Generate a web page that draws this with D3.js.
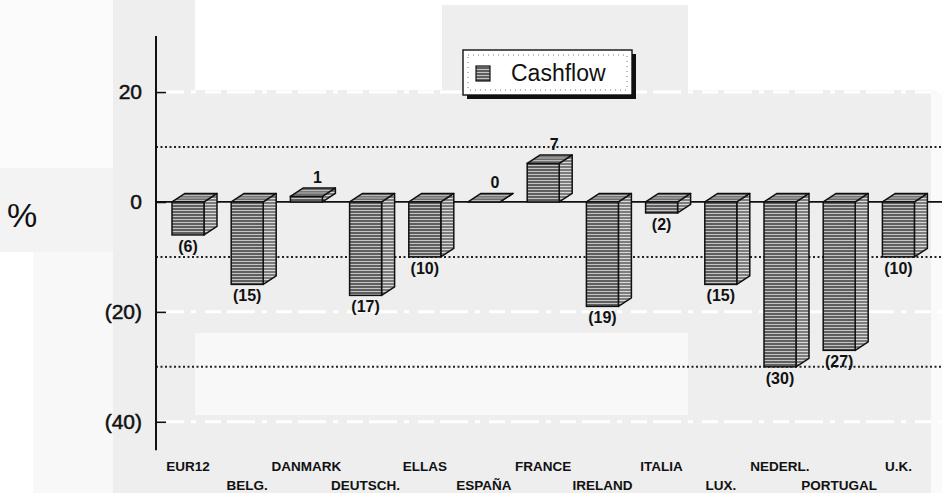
<!DOCTYPE html>
<html>
<head>
<meta charset="utf-8">
<script src="https://cdn.jsdelivr.net/npm/d3@7"></script>
<style>
  html, body { margin: 0; padding: 0; background: #fff; }
  svg { display: block; font-family: "Liberation Sans", Arial, Helvetica, sans-serif; }
</style>
</head>
<body>
<svg id="chart" width="942" height="493"></svg>
<script>
// ---- data ----
const categories = ["EUR12", "BELG.", "DANMARK", "DEUTSCH.", "ELLAS", "ESPAÑA", "FRANCE",
                    "IRELAND", "ITALIA", "LUX.", "NEDERL.", "PORTUGAL", "U.K."];
const cashflow = [-6, -15, 1, -17, -10, 0, 7, -19, -2, -15, -30, -27, -10];
const yTickValues = [20, 0, -20, -40];
const dottedGridValues = [10, -10, -30];
const dashedGridValues = [20, -20, -40];
const seriesName = "Cashflow";
const yUnit = "%";

const svg = d3.select("#chart");
const W = 942, H = 493;

// ---- background (scan shading) ----
const bg = svg.append("g");
bg.append("rect").attr("x", 0).attr("y", 0).attr("width", W).attr("height", H).attr("fill", "#eeeeee");
[
  [0, 0, 113, 168, "#fbfbfb"],
  [0, 168, 113, 84, "#f3f3f3"],
  [0, 252, 33, 241, "#ffffff"],
  [33, 252, 80, 241, "#f8f8f8"],
  [195, 0, 247, 90, "#ffffff"],
  [442, 0, 246, 5, "#ffffff"],
  [688, 0, 254, 90, "#ffffff"],
  [195, 333, 493, 82, "#f8f8f8"],
  [931, 90, 11, 403, "#fafafa"]
].forEach(r => bg.append("rect").attr("x", r[0]).attr("y", r[1]).attr("width", r[2]).attr("height", r[3]).attr("fill", r[4]));

// ---- patterns ----
const defs = svg.append("defs");
function stripes(id, base, line, h) {
  const p = defs.append("pattern").attr("id", id).attr("patternUnits", "userSpaceOnUse")
    .attr("width", 6).attr("height", h);
  p.append("rect").attr("width", 6).attr("height", h).attr("fill", base);
  p.append("rect").attr("width", 6).attr("height", 1).attr("fill", line);
}
stripes("pFront", "#5f5f5f", "#c4c4c4", 3);
stripes("pSide", "#7c7c7c", "#d8d8d8", 3);
stripes("pTop", "#6a6a6a", "#c0c0c0", 2.5);

// ---- scales ----
const x = d3.scaleBand().domain(categories).range([158.4, 928]).padding(0);
const y = d3.scaleLinear().domain([-45.5, 30.2]).range([452, 36]);
const axisX = 156;
const barW = 32, dX = 13, dY = 8.5;

// ---- grid ----
const grid = svg.append("g");
dashedGridValues.forEach(v => {
  grid.append("line").attr("x1", axisX).attr("x2", W).attr("y1", y(v)).attr("y2", y(v))
    .attr("stroke", "#ffffff").attr("stroke-width", 3).attr("stroke-dasharray", "28,7,5,9,16,6");
});
dottedGridValues.forEach(v => {
  grid.append("line").attr("x1", axisX).attr("x2", W).attr("y1", y(v)).attr("y2", y(v))
    .attr("stroke", "#222").attr("stroke-width", 2).attr("stroke-dasharray", "2,2.5");
});

// zero line
svg.append("line").attr("x1", axisX).attr("x2", W).attr("y1", y(0)).attr("y2", y(0))
  .attr("stroke", "#111").attr("stroke-width", 1.8);

// ---- y axis ----
const yAxis = d3.axisLeft(y).tickValues(yTickValues).tickSizeInner(-10).tickSizeOuter(0).tickPadding(14)
  .tickFormat(v => v < 0 ? `(${-v})` : `${v}`);
const ag = svg.append("g").attr("transform", `translate(${axisX},0)`).call(yAxis);
ag.select(".domain").attr("stroke", "#111").attr("stroke-width", 2).attr("d", `M0,${y(30.2)}V${y(-45.2)}`);
ag.selectAll(".tick line").attr("stroke", "#111").attr("stroke-width", 1.6);
ag.selectAll(".tick text").attr("fill", "#111").attr("font-size", 21)
  .attr("stroke", "#111").attr("stroke-width", 0.5)
  .attr("font-family", "'Liberation Sans', Arial, sans-serif");

svg.append("text").attr("x", 22).attr("y", 227).attr("text-anchor", "middle")
  .attr("font-size", 34).attr("fill", "#111").text(yUnit);

// ---- bars ----
const bars = svg.append("g").selectAll("g").data(categories).join("g");
bars.each(function (c, i) {
  const g = d3.select(this);
  const v = cashflow[i];
  const cx = x(c) + x.bandwidth() / 2;
  const x0 = cx - barW / 2, x1 = cx + barW / 2;
  const yTop = Math.min(y(v), y(0)), yBot = Math.max(y(v), y(0));
  const sw = 1.5;
  // side
  g.append("path").attr("d", `M${x1},${yTop}L${x1 + dX},${yTop - dY}L${x1 + dX},${yBot - dY}L${x1},${yBot}Z`)
    .attr("fill", "url(#pSide)").attr("stroke", "#111").attr("stroke-width", sw).attr("stroke-linejoin", "round");
  // top
  g.append("path").attr("d", `M${x0},${yTop}L${x0 + dX},${yTop - dY}L${x1 + dX},${yTop - dY}L${x1},${yTop}Z`)
    .attr("fill", "url(#pTop)").attr("stroke", "#111").attr("stroke-width", sw).attr("stroke-linejoin", "round");
  // front
  if (yBot - yTop > 0.5) {
    g.append("rect").attr("x", x0).attr("y", yTop).attr("width", barW).attr("height", yBot - yTop)
      .attr("fill", "url(#pFront)").attr("stroke", "#111").attr("stroke-width", sw);
  }
  // value label
  const lbl = v < 0 ? `(${-v})` : `${v}`;
  if (v < 0) {
    g.append("text").attr("x", cx).attr("y", yBot + 17).attr("text-anchor", "middle")
      .attr("font-size", 16).attr("font-weight", "bold").attr("fill", "#111").text(lbl);
  } else {
    g.append("text").attr("x", cx + 11).attr("y", yTop - dY - 5).attr("text-anchor", "middle")
      .attr("font-size", 16).attr("font-weight", "bold").attr("fill", "#111").text(lbl);
  }
});

// ---- category labels (alternating rows) ----
svg.append("g").selectAll("text").data(categories).join("text")
  .attr("x", d => x(d) + x.bandwidth() / 2)
  .attr("y", (d, i) => i % 2 === 0 ? 471 : 489.5)
  .attr("text-anchor", "middle").attr("font-size", 13.5).attr("font-weight", "bold")
  .attr("fill", "#111").text(d => d);

// ---- legend ----
const lg = svg.append("g");
const lx = 463, ly = 50, lw = 169, lh = 45;
lg.append("rect").attr("x", lx + 4).attr("y", ly + 4).attr("width", lw).attr("height", lh).attr("fill", "#111");
lg.append("rect").attr("x", lx).attr("y", ly).attr("width", lw).attr("height", lh)
  .attr("fill", "#fff").attr("stroke", "#111").attr("stroke-width", 1.4);
lg.append("rect").attr("x", lx + 5).attr("y", ly + 5).attr("width", lw - 10).attr("height", lh - 10)
  .attr("fill", "none").attr("stroke", "#777").attr("stroke-width", 1).attr("stroke-dasharray", "1,4");
lg.append("rect").attr("x", 476).attr("y", 66).attr("width", 14).attr("height", 15)
  .attr("fill", "url(#pFront)").attr("stroke", "#111").attr("stroke-width", 1.2);
lg.append("text").attr("x", 511).attr("y", 81).attr("font-size", 23).attr("fill", "#111").text(seriesName);
</script>
</body>
</html>
